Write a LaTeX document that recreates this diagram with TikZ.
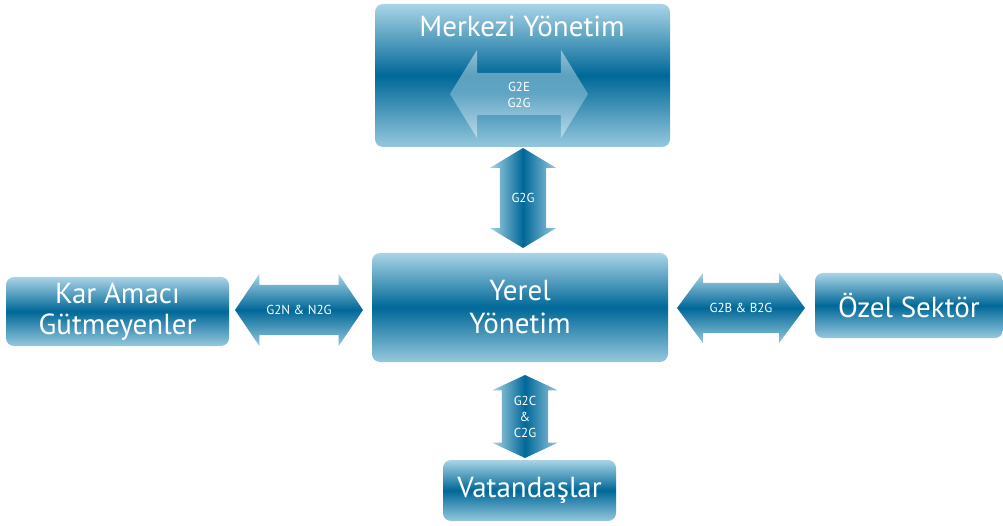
\documentclass[tikz,border=0pt]{standalone}
\usepackage{fontspec}
\setmainfont{PT Sans}
\usetikzlibrary{shapes.arrows}
\definecolor{boxdark}{RGB}{0,104,152}
\definecolor{boxlight}{RGB}{170,212,230}
\definecolor{boxlow}{RGB}{150,200,222}

\tikzset{
  boxtext/.style={text=white, font=\fontsize{29}{33}\selectfont, align=center, inner sep=0pt},
  govbox/.style={boxtext, rectangle, rounded corners=8pt, top color=boxlight, bottom color=boxlow,
    middle color=boxdark},
  harrow/.style={double arrow, inner sep=0pt, top color=boxlight, bottom color=boxlow,
    middle color=boxdark, text=white, font=\fontsize{13}{16}\selectfont},
  varrow/.style={double arrow, shape border rotate=90, inner sep=0pt, left color=boxlight,
    right color=boxlow, middle color=boxdark, text=white, font=\fontsize{13}{16}\selectfont,
    align=center, text width=33pt}
}

\begin{document}
\begin{tikzpicture}[x=1pt,y=-1pt]
\useasboundingbox (0,0) rectangle (1003,526);

% boxes
\node[govbox, minimum width=295pt, minimum height=143pt] (merkezi) at (522.5,75.5) {};
\node[boxtext, anchor=base] (merkezitxt) at (522,37) {Merkezi Yönetim};
\node[govbox, minimum width=296pt, minimum height=109pt] (yerel) at (520,307.5) {Yerel\\Yönetim};
\node[govbox, minimum width=223pt, minimum height=69pt, font=\fontsize{29}{31}\selectfont] (kar) at (117.5,311.5) {Kar Amacı\\Gütmeyenler};
\node[govbox, minimum width=188pt, minimum height=65pt] (ozel) at (909,305.5) {Özel Sektör};
\node[govbox, minimum width=173pt, minimum height=61pt] (vatan) at (529.5,490.5) {Vatandaşlar};

% arrows
\node[harrow, top color=white, bottom color=white, middle color=boxlight, fill opacity=0.45, text opacity=1,
  text height=34.5pt, text depth=7.5pt, minimum height=138pt, double arrow head extend=23pt,
  double arrow tip angle=117] (g2e) at (519,94) {\begin{tabular}[b]{@{}c@{}}G2E\\G2G\end{tabular}};
\node[varrow, minimum height=100pt, minimum width=66pt, double arrow tip angle=118] (g2g) at (523,198) {G2G};
\node[harrow, text height=20.5pt, text depth=11.5pt, minimum height=128pt, minimum width=72pt,
  double arrow tip angle=112] (g2n) at (299,310) {G2N \& N2G};
\node[harrow, text height=22.5pt, text depth=13.5pt, minimum height=128pt, minimum width=70pt,
  double arrow tip angle=107] (g2b) at (741,308) {G2B \& B2G};
\node[varrow, minimum height=83pt, minimum width=66pt, double arrow tip angle=130] (g2c) at (525,416.5) {G2C\\\&\\C2G};
\end{tikzpicture}
\end{document}
